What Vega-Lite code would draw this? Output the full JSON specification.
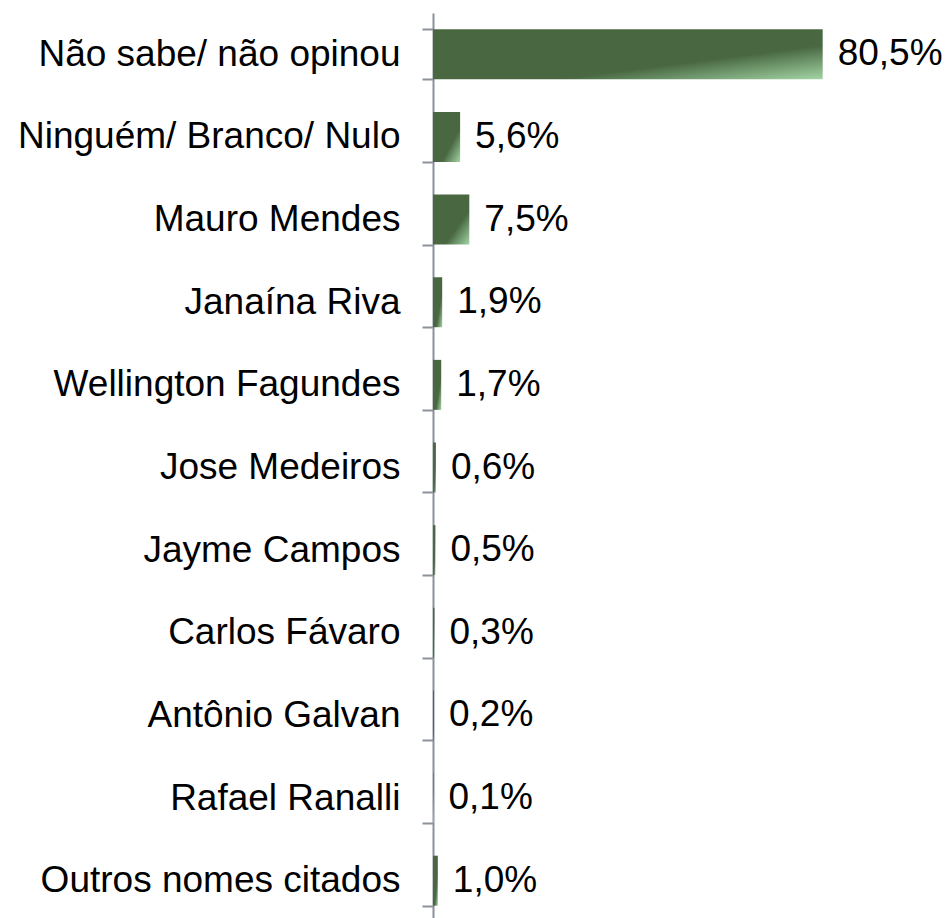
{
  "$schema": "https://vega.github.io/schema/vega-lite/v6.json",
  "autosize": "none",
  "padding": {"left": 433, "top": 13, "right": 0, "bottom": 0},
  "width": 517,
  "height": 909,
  "background": "white",
  "config": {"view": {"stroke": null}, "font": "Liberation Sans"},
  "data": {
    "values": [
      {"nome": "Não sabe/ não opinou", "valor": 80.5, "rotulo": "80,5%"},
      {"nome": "Ninguém/ Branco/ Nulo", "valor": 5.6, "rotulo": "5,6%"},
      {"nome": "Mauro Mendes", "valor": 7.5, "rotulo": "7,5%"},
      {"nome": "Janaína Riva", "valor": 1.9, "rotulo": "1,9%"},
      {"nome": "Wellington Fagundes", "valor": 1.7, "rotulo": "1,7%"},
      {"nome": "Jose Medeiros", "valor": 0.6, "rotulo": "0,6%"},
      {"nome": "Jayme Campos", "valor": 0.5, "rotulo": "0,5%"},
      {"nome": "Carlos Fávaro", "valor": 0.3, "rotulo": "0,3%"},
      {"nome": "Antônio Galvan", "valor": 0.2, "rotulo": "0,2%"},
      {"nome": "Rafael Ranalli", "valor": 0.1, "rotulo": "0,1%"},
      {"nome": "Outros nomes citados", "valor": 1.0, "rotulo": "1,0%"}
    ]
  },
  "encoding": {
    "y": {
      "field": "nome",
      "type": "nominal",
      "sort": null,
      "scale": {"paddingInner": 0.395, "paddingOuter": 0.1975},
      "axis": {
        "title": null,
        "tickBand": "extent",
        "domainColor": "#8a9199",
        "domainWidth": 2,
        "tickColor": "#8a9199",
        "tickWidth": 2,
        "tickSize": 11,
        "labelPadding": 22,
        "labelFont": "Liberation Sans",
        "labelFontSize": 37,
        "labelColor": "#000000",
        "labelLimit": 0
      }
    },
    "x": {
      "field": "valor",
      "type": "quantitative",
      "scale": {"domain": [0, 106.8], "nice": false, "zero": true},
      "axis": null
    }
  },
  "layer": [
    {
      "mark": {
        "type": "bar",
        "color": {
          "gradient": "linear",
          "x1": 0, "y1": 0, "x2": 1, "y2": 1,
          "stops": [
            {"offset": 0, "color": "#496842"},
            {"offset": 0.66, "color": "#496842"},
            {"offset": 1, "color": "#a3d5a5"}
          ]
        }
      }
    },
    {
      "mark": {
        "type": "text",
        "align": "left",
        "baseline": "middle",
        "dx": 15,
        "font": "Liberation Sans",
        "fontSize": 37,
        "color": "#000000"
      },
      "encoding": {"text": {"field": "rotulo"}}
    }
  ]
}
